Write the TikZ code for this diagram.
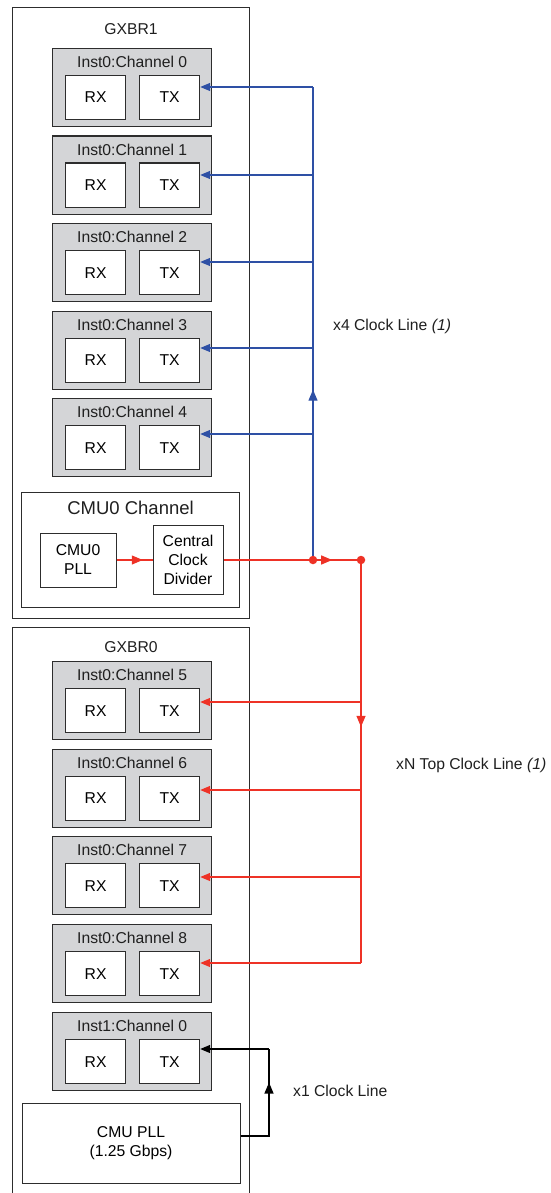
\documentclass[tikz,border=0pt]{standalone}
\usepackage{fontspec}
\setmainfont{Liberation Sans}
\usetikzlibrary{arrows.meta, positioning, decorations.markings, calc}

\definecolor{clkblue}{RGB}{46,80,165}
\definecolor{clkred}{RGB}{238,50,38}
\definecolor{chgray}{RGB}{212,213,215}
\definecolor{edgegray}{RGB}{45,45,45}

\begin{document}
\begin{tikzpicture}[
  x=1pt, y=-1pt,
  font=\fontsize{15.7}{19}\selectfont,
  outerbox/.style={draw=edgegray, line width=1pt, anchor=north west, inner sep=0pt},
  chanbox/.style={draw=edgegray, fill=chgray, line width=1.3pt, anchor=north west,
                  minimum width=159pt, minimum height=78pt, inner sep=0pt},
  portbox/.style={draw=edgegray, fill=white, line width=1.2pt, anchor=north west,
                  minimum width=60pt, minimum height=44pt, inner sep=0pt},
  blockbox/.style={draw=edgegray, fill=white, line width=1pt, align=center, inner sep=0pt},
  lbl/.style={inner sep=0pt, text=black!88},
  tip/.style={-{Triangle[length=10pt, width=8pt]}},
  midtip/.style={postaction={decorate}, decoration={markings,
                 mark=at position #1 with {\arrow{Triangle[length=11pt, width=9pt]}}}},
  blueline/.style={draw=clkblue, line width=1.2pt},
  redline/.style={draw=clkred, line width=1.2pt},
  blackline/.style={draw=black, line width=1.2pt},
  dot/.style={circle, fill=clkred, inner sep=0pt, minimum size=8.5pt}
]
\useasboundingbox (0,0) rectangle (550,1193);

% transceiver blocks
\node[outerbox, minimum width=237pt, minimum height=611pt] (gxbr1) at (12,7) {};
\node[lbl] at ([yshift=-22pt]gxbr1.north) {GXBR1};
\node[outerbox, minimum width=237pt, minimum height=600pt] (gxbr0) at (12,627) {};
\node[lbl] at ([yshift=-20pt]gxbr0.north) {GXBR0};

% channels
\foreach \id/\top/\name in {c0/48/Inst0:Channel 0, c1/135.5/Inst0:Channel 1,
    c2/223/Inst0:Channel 2, c3/310.5/Inst0:Channel 3, c4/398/Inst0:Channel 4,
    c5/661/Inst0:Channel 5, c6/748.5/Inst0:Channel 6, c7/836/Inst0:Channel 7,
    c8/924/Inst0:Channel 8, c9/1012/Inst1:Channel 0}{
  \node[chanbox] (\id) at (52,\top) {};
  \node[lbl] at ([yshift=-14pt]\id.north) {\name};
  \node[portbox] (rx\id) at (65,\top+27) {RX};
  \node[portbox] (tx\id) at (139,\top+27) {TX};
}

% CMU0 channel
\node[outerbox, line width=1.1pt, minimum width=218pt, minimum height=115pt] (cmu0) at (21,492) {};
\node[lbl, font=\fontsize{18.5}{22}\selectfont] at ([yshift=-16pt]cmu0.north) {CMU0 Channel};
\node[blockbox, minimum width=76pt, minimum height=54pt] (pll0) at (78,560) {CMU0\\PLL};
\node[blockbox, minimum width=70pt, minimum height=69pt] (ccd) at (188,560) {Central\\Clock\\Divider};

% CMU PLL of GXBR0
\node[blockbox, minimum width=218pt, minimum height=80pt] (cmupll) at (131,1143) {CMU PLL\\(1.25 Gbps)};

% junctions
\coordinate (jblue) at (313,560);
\coordinate (jred) at (361,560);

% x4 clock line
\foreach \id/\y in {c0/87, c1/175, c2/262, c3/348, c4/434}{
  \coordinate (b\id) at (313,\y);
  \draw[blueline, tip] (b\id) -- (b\id -| tx\id.east);
}
\draw[blueline, midtip=0.36] (jblue) -- (bc0);

% xN top clock line
\draw[redline, midtip=0.73] (pll0.east) -- (ccd.west);
\draw[redline] (ccd.east) -- (jblue);
\draw[redline, midtip=0.40] (jblue) -- (jred);
\foreach \id/\y in {c5/702, c6/790, c7/877, c8/963}{
  \coordinate (r\id) at (361,\y);
  \draw[redline, tip] (r\id) -- (r\id -| tx\id.east);
}
\draw[redline, midtip=0.414] (jred) -- (rc8);

% x1 clock line
\coordinate (k0) at (269,1136);
\coordinate (k1) at (269,1049);
\draw[blackline, midtip=0.71] (cmupll.east |- k0) -- (k0) -- (k1);
\draw[blackline, tip] (k1) -- (k1 -| txc9.east);

\node[dot] (dotblue) at (jblue) {};
\node[dot] (dotred) at (jred) {};

% labels
\node[lbl, anchor=west] (x4lbl) at (333,326) {x4 Clock Line \textit{(1)}};
\node[lbl, anchor=west] (xnlbl) at (396,765) {xN Top Clock Line \textit{(1)}};
\node[lbl, anchor=west] (x1lbl) at (293,1091) {x1 Clock Line};

\end{tikzpicture}
\end{document}
